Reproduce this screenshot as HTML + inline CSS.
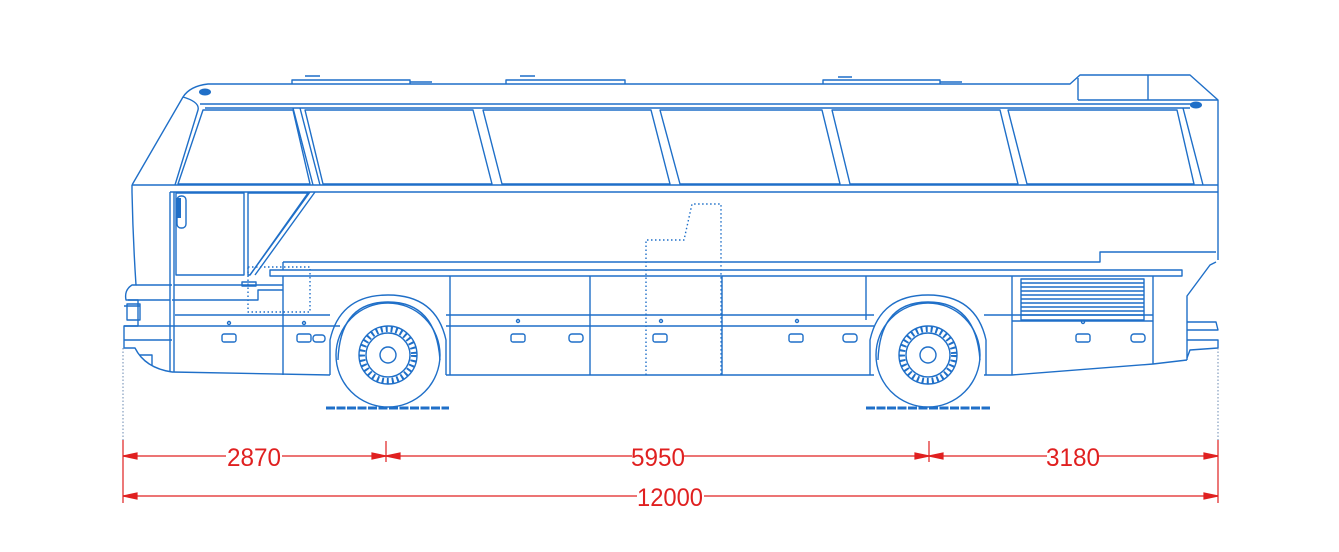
<!DOCTYPE html>
<html><head><meta charset="utf-8"><style>html,body{margin:0;padding:0;background:#fff}svg{display:block}</style></head>
<body>
<svg width="1339" height="552" viewBox="0 0 1339 552" xmlns="http://www.w3.org/2000/svg">
<g fill="none" stroke="#1f6fc8" stroke-width="1.4" stroke-linejoin="round">
<!-- roof -->
<path d="M132,185 L183,97 Q190,86 208,84 L1070,84 L1080,75 L1190,75 L1218,100 L1218,260"/>
<path d="M1078,78 L1078,100 M1148,75 L1148,100 M1078,100 L1218,100"/>
<path d="M183,97 Q200,102 198,110 L175,185 M200,104 L1195,104 M205,108 L1190,108"/>
<!-- roof hatches -->
<path d="M292,84 L292,80 L410,80 L410,84 M305,76 L320,76 M410,82 L432,82 M506,84 L506,80 L625,80 L625,84 M520,76 L535,76 M823,84 L823,80 L940,80 L940,84 M838,77 L852,77 M940,82 L962,82"/>
<!-- windows -->
<path d="M203,110 L293,110 L310,184 L178,184 Z"/>
<path d="M293,108 L313,185 M300,108 L320,185"/>
<path d="M305,110 L473,110 L492,184 L323,184 Z"/>
<path d="M483,110 L651,110 L670,184 L502,184 Z"/>
<path d="M660,110 L822,110 L840,184 L680,184 Z"/>
<path d="M832,110 L1000,110 L1018,184 L850,184 Z"/>
<path d="M1008,110 L1177,110 L1194,184 L1027,184 Z"/>
<path d="M1183,108 L1203,185 M132,185 L1218,185 M170,192 L1218,192 M132,185 L132,192"/>
<!-- front -->
<path d="M132,192 Q133,240 136,285 L132,285 Q124,290 126,300 L138,300 L138,326 L124,326 L124,348 L135,348 Q145,368 172,372"/>
<path d="M124,306 L140,306 M124,340 L172,340 M124,326 L175,326 M140,355 L152,355 L152,365 M128,300 L170,300 M136,285 L172,285"/>
<path d="M127,304 L140,304 L140,320 L127,320 Z"/>
<path d="M170,192 L170,372 M174,192 L174,372"/>
<path d="M176,193 L244,193 L244,275 L176,275 Z M248,193 L308,193 L250,275 L248,275 Z"/>
<path d="M315,192 L255,275 M310,192 L250,275"/>
<rect x="177" y="196" width="9" height="32" rx="4"/>
<!-- side upper -->
<path d="M283,262 L1100,262 L1100,252 L1216,252"/>
<path d="M270,270 L1182,270 L1182,276 L270,276 Z"/>
<path d="M283,262 L283,270 M283,276 L283,375 M174,285 L283,285 M172,300 L258,300 L258,290 L283,290"/>
<path d="M175,326 L340,326 M175,315 L283,315 M283,315 L330,315 M446,315 L874,315 M984,315 L1153,315 M446,326 L874,326 M1012,321 L1153,321"/>
<!-- skirts -->
<path d="M172,372 L330,375 M446,375 L874,375 M984,375 L1012,375 L1153,364 L1187,360"/>
<path d="M450,276 L450,375 M590,276 L590,375 M722,276 L722,375 M866,276 L866,320 M1012,276 L1012,375 M1153,276 L1153,364"/>
<path d="M1187,360 L1187,296 L1210,265 L1216,262"/>
<path d="M1187,322 L1216,322 L1218,330 L1187,330 M1187,340 L1218,340 L1218,348 L1190,350 L1187,358"/>
<!-- arches -->
<path d="M330,375 L330,340 Q340,295 388,295 Q436,295 446,340 L446,375"/>
<path d="M870,375 L870,340 Q880,295 928,295 Q976,295 986,340 L986,375"/>
<path d="M338,360 Q340,302 388,302 Q436,302 440,360"/>
<path d="M878,360 Q880,302 928,302 Q976,302 980,360"/>
<!-- wheels -->
<circle cx="388" cy="355" r="52"/><circle cx="388" cy="355" r="29"/><circle cx="388" cy="355" r="22"/><circle cx="388" cy="355" r="8"/>
<circle cx="928" cy="355" r="52"/><circle cx="928" cy="355" r="29"/><circle cx="928" cy="355" r="22"/><circle cx="928" cy="355" r="8"/>
<circle cx="388" cy="355" r="26" stroke-width="6" stroke-dasharray="2 3"/>
<circle cx="928" cy="355" r="26" stroke-width="6" stroke-dasharray="2 3"/>
<!-- grille -->
<rect x="1021" y="279" width="123" height="41"/>
<path d="M1021,283H1144M1021,287H1144M1021,291H1144M1021,295H1144M1021,299H1144M1021,303H1144M1021,307H1144M1021,311H1144M1021,315H1144"/>
<!-- handles -->
<g>
<rect x="222" y="334" width="14" height="8" rx="2"/><rect x="297" y="334" width="14" height="8" rx="2"/><rect x="313" y="335" width="12" height="7" rx="3"/>
<rect x="511" y="334" width="14" height="8" rx="2"/><rect x="569" y="334" width="14" height="8" rx="3"/>
<rect x="653" y="334" width="14" height="8" rx="2"/><rect x="789" y="334" width="14" height="8" rx="2"/><rect x="843" y="334" width="14" height="8" rx="3"/>
<rect x="1076" y="334" width="14" height="8" rx="2"/><rect x="1131" y="334" width="14" height="8" rx="3"/>
<circle cx="229" cy="323" r="1.5"/><circle cx="304" cy="323" r="1.5"/><circle cx="518" cy="321" r="1.5"/><circle cx="661" cy="321" r="1.5"/><circle cx="797" cy="321" r="1.5"/><circle cx="1083" cy="322" r="1.5"/>
<rect x="242" y="282" width="14" height="4"/>
</g>
<!-- dotted -->
<path stroke-dasharray="1.5 2.5" d="M248,267 L310,267 L310,312 L248,312 Z M646,375 L646,240 L684,240 L692,204 L721,204 L721,375"/>
</g>
<ellipse cx="205" cy="92" rx="6" ry="3.5" fill="#1f6fc8"/>
<ellipse cx="1196" cy="105" rx="6" ry="3.5" fill="#1f6fc8"/>
<rect x="176" y="198" width="5" height="20" fill="#1f6fc8"/>
<g stroke="#1f6fc8" stroke-width="3" stroke-dasharray="9 1.5"><path d="M326,408H449M866,408H990"/></g>
<!-- dimensions -->
<g stroke="#6a88b0" stroke-width="1" stroke-dasharray="1.5 2"><path d="M123,348V440M1218,348V440"/></g>
<g stroke="#e02020" stroke-width="1.2" fill="#e02020">
<path d="M123,440V503M1218,440V503M386,441V462M929,441V462"/>
<path d="M123,456H226M282,456H386H632M684,456H929H1047M1099,456H1218" fill="none"/>
<path d="M123,496H637M704,496H1218" fill="none"/>
<path d="M123,456l14,-3v6z M386,456l-14,-3v6z M386,456l14,-3v6z M929,456l-14,-3v6z M929,456l14,-3v6z M1218,456l-14,-3v6z M123,496l14,-3v6z M1218,496l-14,-3v6z"/>
</g>
<g fill="#e02020" font-family="Liberation Sans, sans-serif" font-size="25" text-anchor="middle">
<text x="254" y="466" textLength="54" lengthAdjust="spacingAndGlyphs">2870</text>
<text x="658" y="466" textLength="54" lengthAdjust="spacingAndGlyphs">5950</text>
<text x="1073" y="466" textLength="54" lengthAdjust="spacingAndGlyphs">3180</text>
<text x="670" y="506" textLength="66" lengthAdjust="spacingAndGlyphs">12000</text>
</g>
</svg>
</body></html>
